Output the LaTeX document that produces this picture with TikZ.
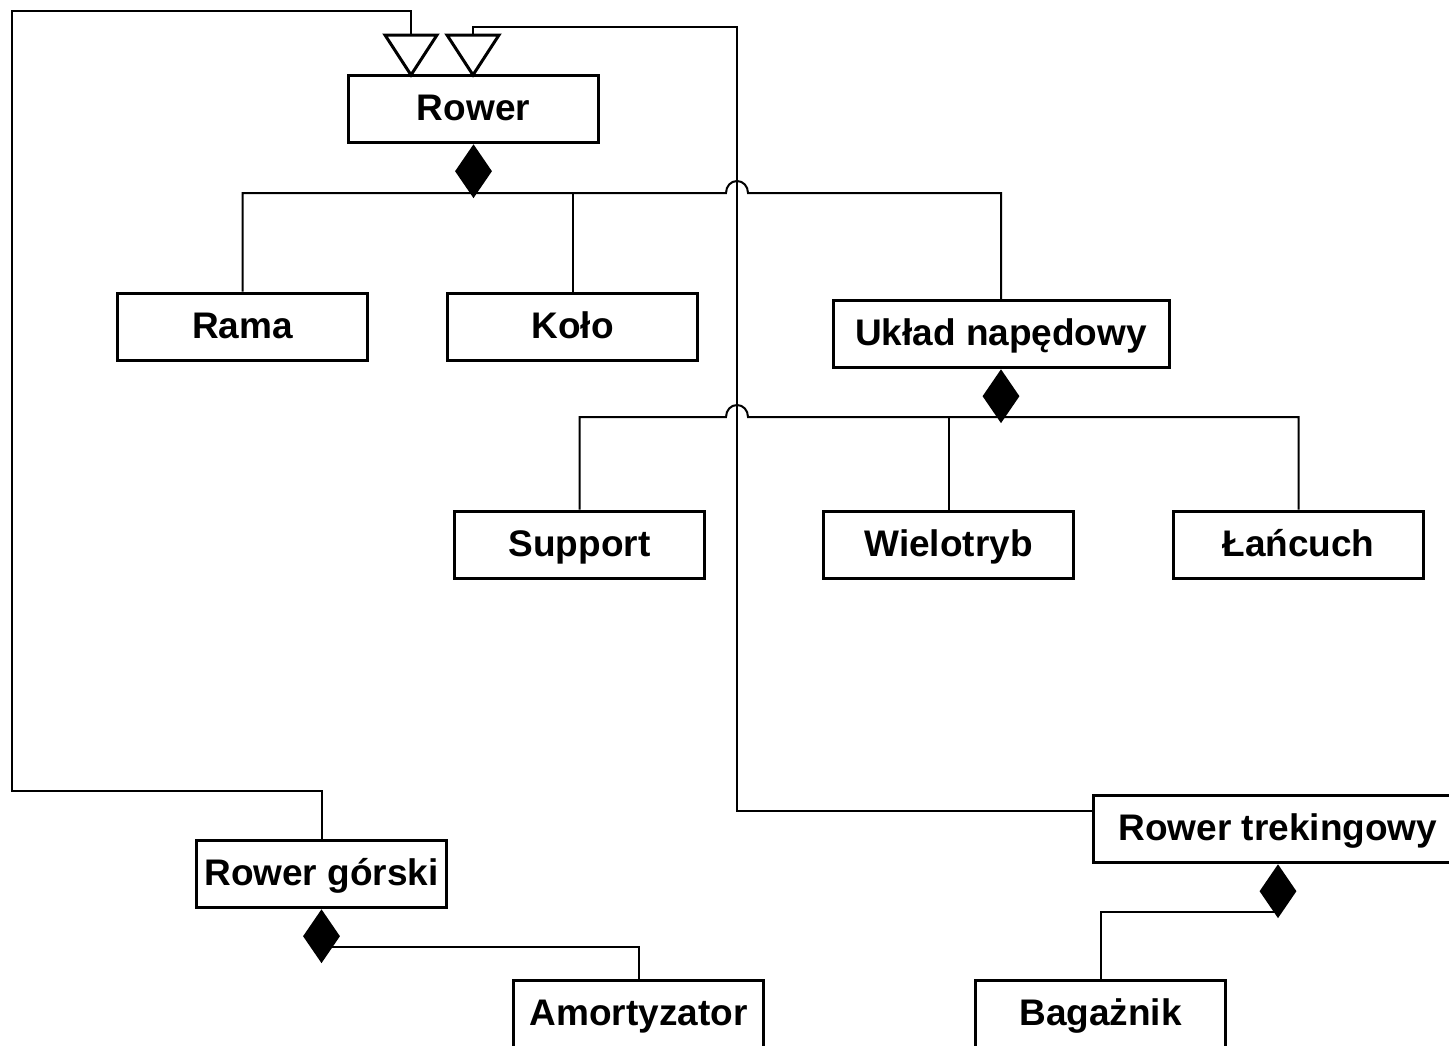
\documentclass[tikz,border=0pt]{standalone}
\usepackage{fontspec}
\setmainfont{Liberation Sans}
\usetikzlibrary{shapes.geometric}
\tikzset{
  cls/.style={draw, line width=3pt, fill=white, minimum width=250pt, minimum height=67pt,
    inner sep=0pt, text height=23pt, text depth=0pt,
    font=\fontsize{37}{40}\selectfont\bfseries},
  comp/.style={diamond, fill=black, draw=none, inner sep=0pt, anchor=north,
    minimum width=37pt, minimum height=54pt},
  conn/.style={line width=2pt},
  gen/.style={line width=3pt, fill=white, line join=miter}
}
\begin{document}
\begin{tikzpicture}[x=1pt,y=-1pt]
\useasboundingbox (0,0) rectangle (1449,1045);
\clip (0,0) rectangle (1449,1045);

% classes
\node[cls] (rower) at (473.5,109) {Rower};
\node[cls] (rama) at (242.5,326.5) {Rama};
\node[cls] (kolo) at (572.5,326.5) {Koło};
\node[cls, minimum width=336pt] (uklad) at (1001,334) {Układ napędowy};
\node[cls] (support) at (579.5,544.5) {Support};
\node[cls] (wielo) at (948.5,544.5) {Wielotryb};
\node[cls] (lancuch) at (1298.5,544.5) {Łańcuch};
\node[cls] (gorski) at (321.5,874) {Rower górski};
\node[cls, minimum width=370pt] (trek) at (1278,829) {Rower trekingowy};
\node[cls] (amort) at (638.5,1014) {Amortyzator};
\node[cls] (bagaz) at (1100.5,1013.5) {Bagażnik};

% bus junction points under the composite classes
\coordinate (bus1) at (473.5,193);
\coordinate (bus2) at (1001,417);
\coordinate (jmpA) at (726,193);
\coordinate (jmpB) at (748,193);
\coordinate (jmpC) at (726,417);
\coordinate (jmpD) at (748,417);

% composition: Rower
\draw[conn] (rama.north) |- (jmpA)
  .. controls (726,186) and (731,181) .. (737,181)
  .. controls (743,181) and (748,186) .. (jmpB) -| (uklad.north);
\draw[conn] (kolo.north) -- (kolo.north |- bus1);

% composition: Uklad napedowy
\draw[conn] (support.north) |- (jmpC)
  .. controls (726,410) and (731,405) .. (737,405)
  .. controls (743,405) and (748,410) .. (jmpD) -| (lancuch.north);
\draw[conn] (wielo.north) -- (wielo.north |- bus2);

% composition: Rower gorski, Rower trekingowy
\draw[conn] (amort.north) |- (321.5,947);
\draw[conn] (bagaz.north) |- (1278,912);

% generalization connectors
\coordinate (tipA) at (411,75);
\coordinate (tipB) at (473,75);
\draw[conn] (gorski.north) |- (12,791) -- (12,11) -| (411,35);
\draw[conn] (trek.west |- 0,811) -| (737,27) -| (473,35);
\draw[gen] (tipA) -- ++(-26,-40) -- ++(52,0) -- cycle;
\draw[gen] (tipB) -- ++(-26,-40) -- ++(52,0) -- cycle;

% composition diamonds
\node[comp] (d1) at (rower.south) {};
\node[comp] (d2) at (uklad.south) {};
\node[comp] (d3) at (gorski.south) {};
\node[comp] (d4) at (trek.south) {};
\end{tikzpicture}
\end{document}
